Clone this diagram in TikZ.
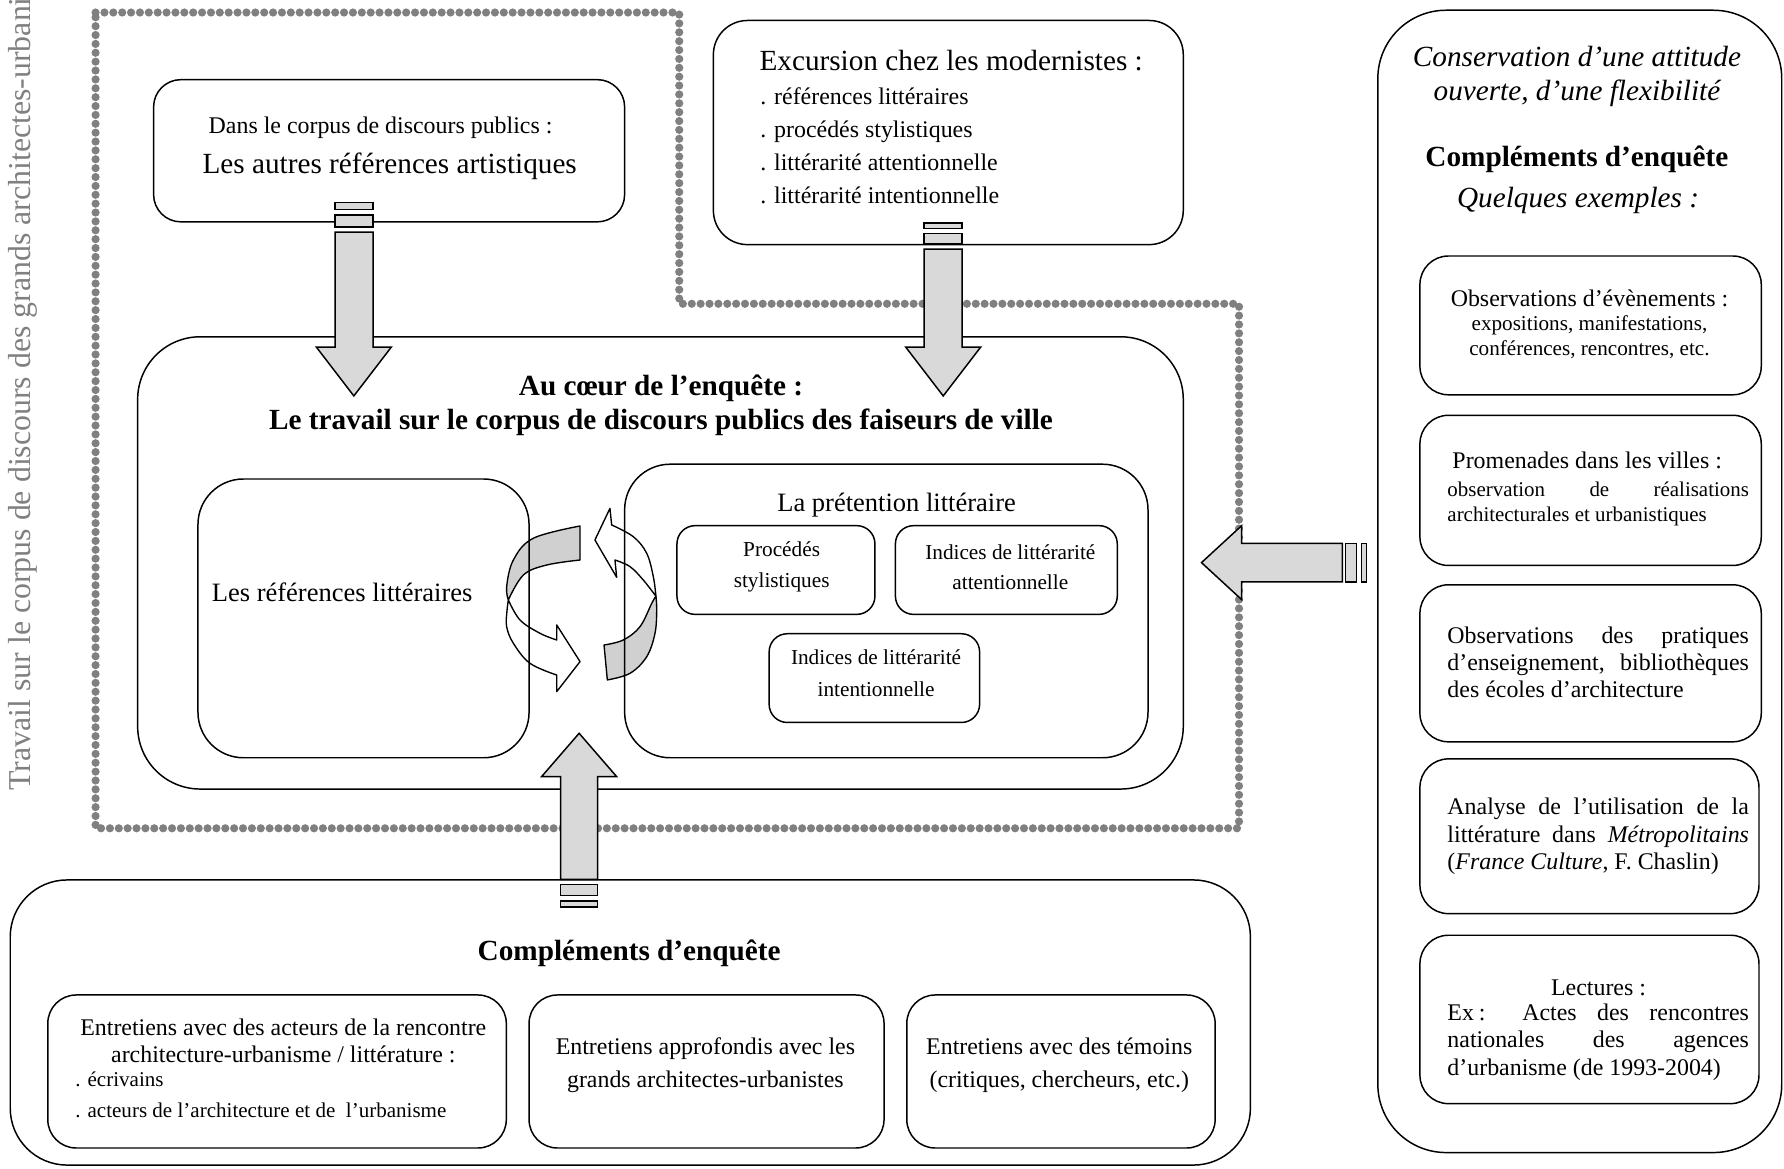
\documentclass[tikz,border=0pt]{standalone}
\usepackage{fontspec}
\setmainfont{Liberation Serif}
\usetikzlibrary{decorations.markings}
\definecolor{agray}{HTML}{D9D9D9}
\definecolor{cgray}{HTML}{D0D0D0}
\definecolor{dotgray}{HTML}{808080}
\newcommand\fsz[2]{\fontsize{#1}{#2}\selectfont}
\newcommand\mybox[6]{\node[bx, rounded corners=#6pt, minimum width={(#4-#2)*1pt}, minimum height={(#5-#3)*1pt}] (#1) at ({(#2+#4)/2},{(#3+#5)/2}) {};}
\newcommand\spr[1]{\makebox[265pt][s]{#1}}
\begin{document}
\begin{tikzpicture}[x=1pt,y=-1pt,
  bx/.style={draw, line width=1.3pt, inner sep=0pt, outer sep=0pt},
  tx/.style={inner sep=0pt, align=center},
  tl/.style={inner sep=0pt, align=left, anchor=west},
  blk/.style={draw, line width=1.3pt, fill=agray, line join=miter},
  crg/.style={draw, line width=1.2pt, fill=cgray, line join=round},
  crw/.style={draw, line width=1.2pt, fill=white, line join=round},
  dotline/.style={postaction={decorate}, decoration={markings, mark=between positions 0 and 1 step 7.8pt with {\fill[dotgray] (0,0) circle[radius=3.6pt];}}},
]
\useasboundingbox (0,0) rectangle (1568,1027);

% vertical text
\node[rotate=90, anchor=west, inner sep=0pt, text=dotgray, font=\fsz{28}{30}] (vt) at (20,695) {Travail sur le corpus de discours des grands architectes-urbanistes};

% dotted border
\path[dotline] (84,11) -- (597,11) -- (597,267) -- (1089,267) -- (1089,728) -- (84,728) -- cycle;

% circular arrows
\path[crg] (509.8,462.3) -- (509.8,492.2) -- plot[smooth,tension=0.6] coordinates {(509.8,492.2) (480.5,496.6) (460,505.4) (446.8,527.3)} -- plot[smooth,tension=0.6] coordinates {(446.8,527.3) (445.3,515.6) (451.2,492.2) (468.7,473.1) (509.8,462.3)} -- cycle;
\path[crw] (446.8,527.3) -- plot[smooth,tension=0.6] coordinates {(446.8,527.3) (457,544.9) (474.6,556.6) (489.3,562.5)} -- (489.3,549.3) -- (509.8,581.5) -- (489.3,607.9) -- (489.3,593.3) -- plot[smooth,tension=0.6] coordinates {(489.3,593.3) (465.8,583) (451.2,565.4) (445.3,550.8) (445.6,537) (446.8,527.3)} -- cycle;
\path[crg] (530.9,566.9) -- (533.8,597.6) -- plot[smooth,tension=0.6] coordinates {(533.8,597.6) (553.7,591.8) (568.4,577.2) (575.7,556.6) (577.2,536.1) (576.5,524)} -- plot[smooth,tension=0.6] coordinates {(576.5,524) (572.8,530.3) (562.5,550.8) (547.8,562.5) (530.9,566.9)} -- cycle;
\path[crw] (576.5,524) -- plot[smooth,tension=0.6] coordinates {(576.5,524) (574.2,506.8) (568.4,486.3) (556.6,471.7) (537.6,461.4)} -- (536.1,446.8) -- (522.9,474.6) -- (542,507.4) -- (540.5,492.2) -- plot[smooth,tension=0.6] coordinates {(540.5,492.2) (553.7,498) (565.4,509.8) (576.5,524)} -- cycle;

% boxes
\mybox{A}{135}{70}{549}{195}{24}
\mybox{B}{627}{18}{1040}{215}{30}
\mybox{C}{121}{296}{1040}{693.5}{55}
\mybox{D}{174}{421}{465}{666}{40}
\mybox{E}{549}{408}{1009}{666}{40}
\mybox{E1}{595}{462}{769}{540}{16}
\mybox{E2}{787}{462}{982}{540}{16}
\mybox{E3}{676}{557}{861}{635}{16}
\mybox{F}{9}{773.4}{1099}{1024}{50}
\mybox{F1}{42}{874.5}{445}{1009}{25}
\mybox{F2}{465}{874.5}{777}{1009}{25}
\mybox{F3}{797}{874.5}{1068}{1009}{25}
\mybox{G}{1211}{9}{1566}{1013}{60}
\mybox{G1}{1248}{225}{1548}{347}{25}
\mybox{G2}{1248}{365}{1548}{497}{25}
\mybox{G3}{1248}{514}{1548}{652}{25}
\mybox{G4}{1248}{667}{1546}{803}{25}
\mybox{G5}{1248}{822}{1546}{970}{25}

% texts
\node[tx, font=\fsz{21}{24}] (tA1) at (334.5,112) {Dans le corpus de discours publics :};
\node[tx, font=\fsz{25.7}{30}] (tA2) at (342.5,146) {Les autres références artistiques};
\node[tx, font=\fsz{25.7}{30}] (tB1) at (836,53) {Excursion chez les modernistes :};
\node[tl, font=\fsz{21}{29}] (tB2) at (668,128.5) {. références littéraires\\. procédés stylistiques\\. littérarité attentionnelle\\. littérarité intentionnelle};
\node[tx, font=\fsz{25.7}{30}\bfseries] (tC) at (581,356) {Au cœur de l’enquête :\\Le travail sur le corpus de discours publics des faiseurs de ville};
\node[tl, font=\fsz{23.3}{27}] (tD) at (186,521) {Les références littéraires};
\node[tx, font=\fsz{23.3}{27}] (tE) at (788,444) {La prétention littéraire};
\node[tx, font=\fsz{18.7}{27}] (tE1) at (687,498.5) {Procédés\\stylistiques};
\node[tx, font=\fsz{18.7}{27}] (tE2) at (888,498.5) {Indices de littérarité\\attentionnelle};
\node[tx, font=\fsz{18.7}{28}] (tE3) at (770,592) {Indices de littérarité\\intentionnelle};

\node[tx, font=\fsz{25.7}{30}\bfseries] (tF) at (553,838) {Compléments d’enquête};
\node[tx, font=\fsz{21}{24}] (tF1a) at (249,915) {Entretiens avec des acteurs de la rencontre\\architecture-urbanisme / littérature :};
\node[tl, font=\fsz{18.5}{27}] (tF1b) at (66,962.5) {. écrivains\\. acteurs de l’architecture et de\ \ l’urbanisme};
\node[tx, font=\fsz{21}{29}] (tF2) at (620,936.5) {Entretiens approfondis avec les\\grands architectes-urbanistes};
\node[tx, font=\fsz{21}{29}] (tF3) at (931,936.5) {Entretiens avec des témoins\\(critiques, chercheurs, etc.)};

\node[tx, font=\fsz{25.7}{30}\itshape] (tG0) at (1386,67) {Conservation d’une attitude\\ouverte, d’une flexibilité};
\node[tx, font=\fsz{25.7}{30}\bfseries] (tG1) at (1386,140) {Compléments d’enquête};
\node[tx, font=\fsz{25.7}{30}\itshape] (tG2) at (1387,176) {Quelques exemples :};
\node[tx, font=\fsz{21}{24}] (tH1a) at (1397,262) {Observations d’évènements :};
\node[tx, font=\fsz{18.6}{22}] (tH1b) at (1397,296) {expositions, manifestations,\\conférences, rencontres, etc.};
\node[tx, font=\fsz{21}{24}] (tH2a) at (1395,405) {Promenades dans les villes :};
\node[tl, font=\fsz{18.4}{22}] (tH2b) at (1272,443) {\spr{observation de réalisations}\\architecturales et urbanistiques};
\node[tl, font=\fsz{21}{24}] (tH3) at (1272,582) {\spr{Observations des pratiques}\\\spr{d’enseignement, bibliothèques}\\des écoles d’architecture};
\node[tl, font=\fsz{21}{24}] (tH4) at (1272,735) {\spr{Analyse de l’utilisation de la}\\\spr{littérature dans \textit{Métropolitains}}\\(\textit{France Culture}, F. Chaslin)};
\node[tx, font=\fsz{21}{24}] (tH5a) at (1405,868) {Lectures :};
\node[tl, font=\fsz{21}{24}] (tH5b) at (1272,916) {\spr{Ex\kern.2em: Actes des rencontres}\\\spr{nationales des agences}\\d’urbanisme (de 1993-2004)};

% block arrows
\path[blk] (294.5,178) rectangle (328,184);
\path[blk] (294.5,189) rectangle (328,199.5);
\path[blk] (294.5,204) -- (328,204) -- (328,305) -- (344,305) -- (311,348) -- (278,305) -- (294.5,305) -- cycle;

\path[blk] (812.3,196) rectangle (845.7,201);
\path[blk] (812.3,205) rectangle (845.7,214.5);
\path[blk] (812.3,219) -- (845.7,219) -- (845.7,305) -- (862,305) -- (829,348) -- (796,305) -- (812.3,305) -- cycle;

\path[blk] (492.8,772.8) -- (525.3,772.8) -- (525.3,682.6) -- (542,682.6) -- (509,644.5) -- (476,682.6) -- (492.8,682.6) -- cycle;
\path[blk] (492.8,777.2) rectangle (525.3,787.2);
\path[blk] (492.8,792) rectangle (525.3,797);

\path[blk] (1179.8,477.5) -- (1179.8,511.5) -- (1091.3,511.5) -- (1091.3,527) -- (1056,494.5) -- (1091.3,462) -- (1091.3,477.5) -- cycle;
\path[blk] (1182.7,477.5) rectangle (1192.4,511.5);
\path[blk] (1196.7,477.5) rectangle (1201.1,511.5);
\end{tikzpicture}
\end{document}
